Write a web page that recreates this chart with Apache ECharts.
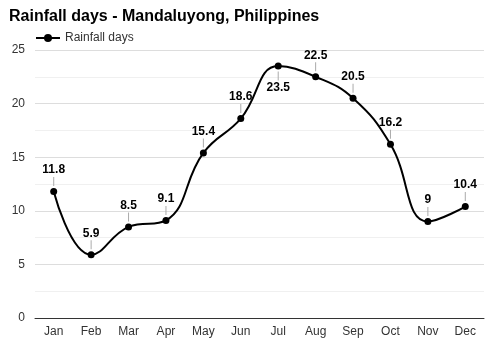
<!DOCTYPE html>
<html><head><meta charset="utf-8">
<script src="https://cdn.jsdelivr.net/npm/echarts@6/dist/echarts.min.js"></script>
<style>html,body{margin:0;padding:0;background:#fff}#c{width:500px;height:350px}</style>
</head><body><div id="c"></div>
<script>
const categories = ['Jan','Feb','Mar','Apr','May','Jun','Jul','Aug','Sep','Oct','Nov','Dec'];
const rainfallDays = [11.8, 5.9, 8.5, 9.1, 15.4, 18.6, 23.5, 22.5, 20.5, 16.2, 9, 10.4];
const labelBelow = ['Jul'];

const chart = echarts.init(document.getElementById('c'), null, {renderer:'canvas'});
const data = rainfallDays.map((v, i) => {
  const below = labelBelow.includes(categories[i]);
  return {
    value: v,
    label: below ? {
      position: 'bottom', distance: 2,
      formatter: '{l|}\n{v|{c}}'
    } : {
      position: 'top', distance: 2,
      formatter: '{v|{c}}\n{l|}'
    }
  };
});
chart.setOption({
  animation: false,
  textStyle: {fontFamily: 'Liberation Sans, Arial, sans-serif'},
  title: {
    text: 'Rainfall days - Mandaluyong, Philippines',
    left: 4, top: 4,
    textStyle: {fontSize: 16, fontWeight: 'bold', color: '#000', fontFamily: 'Liberation Sans, Arial, sans-serif'}
  },
  legend: {
    left: 30, top: 27, itemWidth: 24, itemHeight: 10, itemGap: 6,
    textStyle: {fontSize: 12, color: '#333'},
    data: ['Rainfall days']
  },
  grid: {left: 35, right: 16, top: 50, bottom: 32, containLabel: false},
  xAxis: {
    type: 'category', data: categories, boundaryGap: true,
    axisLine: {show: true, lineStyle: {color: '#333', width: 1}},
    axisTick: {show: false},
    axisLabel: {color: '#333', fontSize: 12, margin: 8},
    splitLine: {show: false}
  },
  yAxis: {
    type: 'value', min: 0, max: 25, interval: 5,
    axisLine: {show: false}, axisTick: {show: false},
    axisLabel: {color: '#333', fontSize: 12, margin: 10},
    splitLine: {show: true, lineStyle: {color: '#dddddd', width: 1}},
    minorTick: {show: false, splitNumber: 2},
    minorSplitLine: {show: true, lineStyle: {color: '#f0f0f0', width: 1}}
  },
  series: [{
    name: 'Rainfall days', type: 'line', data: data, smooth: 0.45,
    symbol: 'circle', symbolSize: 7,
    lineStyle: {color: '#000', width: 2},
    itemStyle: {color: '#000'},
    label: {
      show: true, align: 'center',
      rich: {
        v: {fontSize: 12, fontWeight: 'bold', color: '#000', lineHeight: 14, align: 'center', fontFamily: 'Liberation Sans, Arial, sans-serif'},
        l: {width: 1, height: 9, backgroundColor: '#aaaaaa', align: 'center'}
      }
    },
    z: 3
  }]
});
</script></body></html>
